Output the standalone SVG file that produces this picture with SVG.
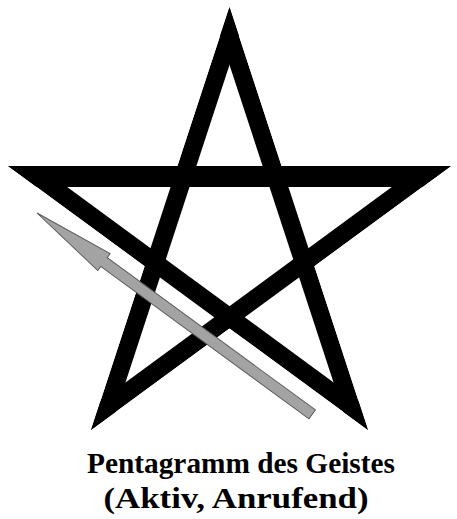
<svg xmlns="http://www.w3.org/2000/svg" width="457" height="519" viewBox="0 0 457 519">
  <style>
    .band { fill: #000; }
    .arrow { fill: #a3a3a3; stroke: #5a5a5a; stroke-width: 1; stroke-linejoin: miter; }
    .title { font-family: "Liberation Serif", "Times New Roman", serif; font-weight: bold; font-size: 29.5px; fill: #000; text-anchor: middle; }
  </style>
  <defs>
    <clipPath id="starClip">
      <polygon points="229.5,7 281.6,166 451,166 314.4,266.2 368,430 229.5,328.4 91,430 144.6,266.2 8,166 177.4,166"/>
    </clipPath>
  </defs>
  <rect width="457" height="519" fill="#fff"/>
  <g id="pentagram" clip-path="url(#starClip)">
    <polygon class="band" points="245.1,-40.5 75.4,477.5 92.5,483.1 262.2,-34.9"/>
    <polygon class="band" points="213.9,-40.5 383.6,477.5 366.5,483.1 196.8,-34.9"/>
    <polygon class="band" points="-10,166 470,166 470,187 -10,187"/>
    <polygon class="band" points="-32.3,136.4 408.3,459.6 418.9,445.1 -21.6,121.9"/>
    <polygon class="band" points="491.3,136.4 50.7,459.6 40.1,445.1 480.6,121.9"/>
  </g>
  <g id="connectors">
    <polygon class="arrow" transform="translate(37,213) rotate(36.2)" points="0,0 83,-10.5 83,-5.5 341,-5.5 341,5.5 83,5.5 83,10.5"/>
  </g>
  <g id="caption">
    <text class="title" x="241" y="473" textLength="308" lengthAdjust="spacingAndGlyphs">Pentagramm des Geistes</text>
    <text class="title" x="236" y="508" textLength="265" lengthAdjust="spacingAndGlyphs">(Aktiv, Anrufend)</text>
  </g>
</svg>
